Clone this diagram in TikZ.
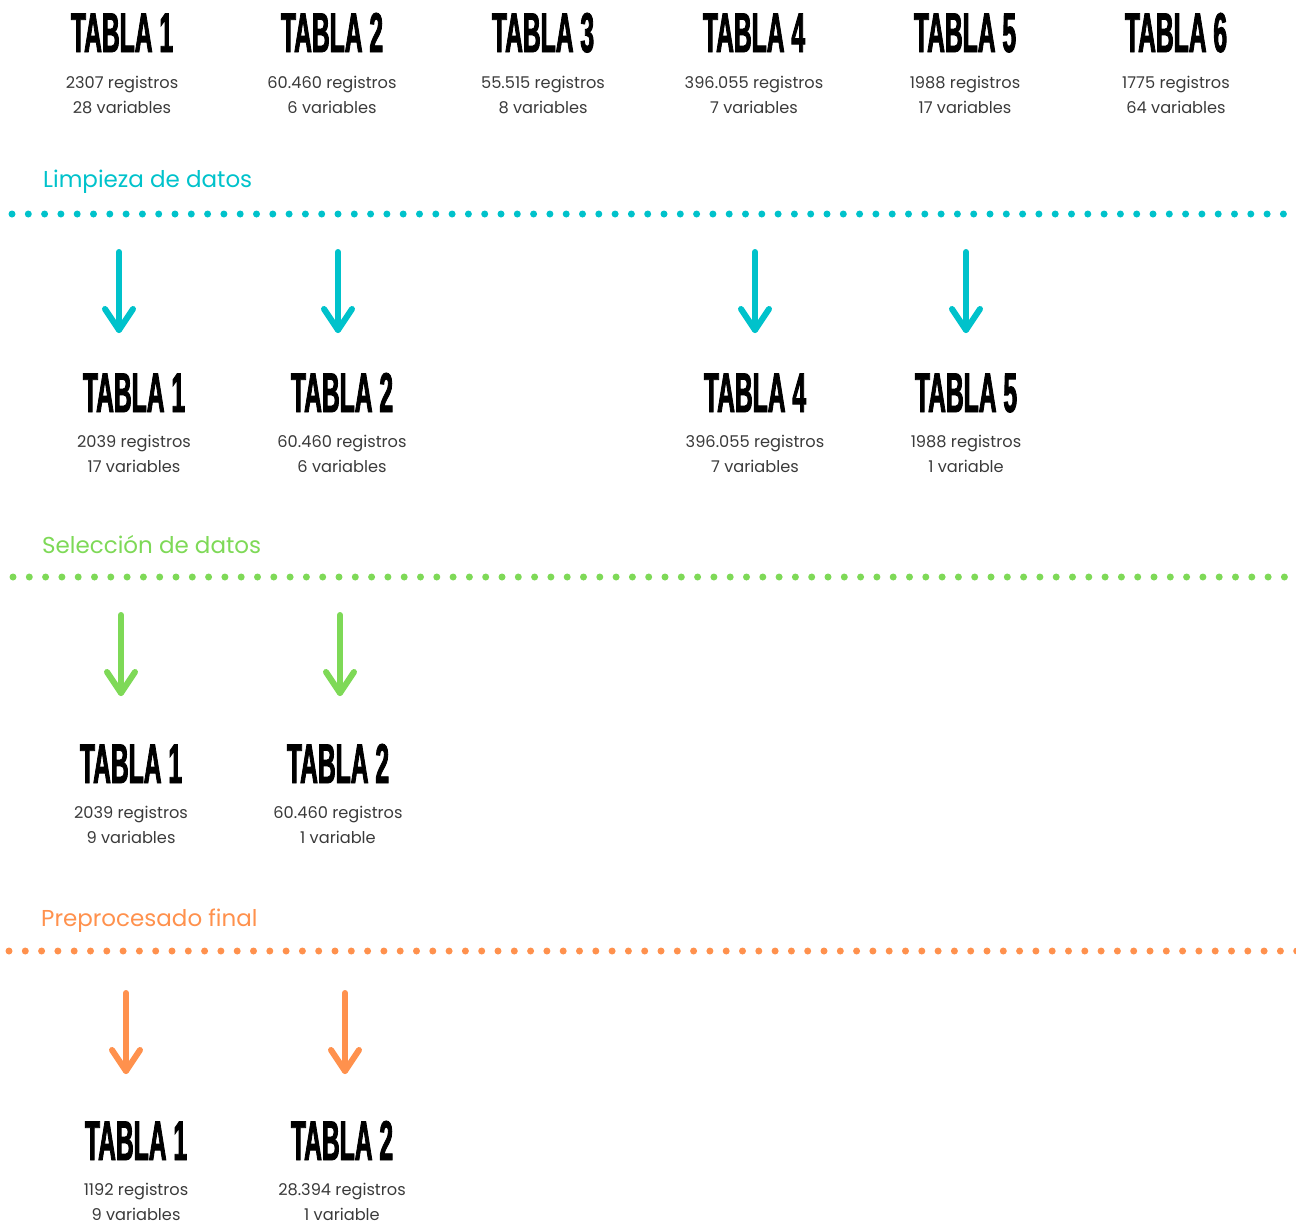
\documentclass[tikz,border=0pt]{standalone}
\usepackage{fontspec}
\usetikzlibrary{calc}
\setmainfont{Poppins}
\newfontfamily\titlefont[FakeStretch=0.44,FakeBold=1.5]{Liberation Sans}
\definecolor{cyanc}{HTML}{00C2CB}
\definecolor{greenc}{HTML}{7ED957}
\definecolor{orangec}{HTML}{FF914D}
\definecolor{txt}{HTML}{3A3A3A}
\begin{document}
\begin{tikzpicture}[x=1pt,y=-1pt,
  ttl/.style={font=\titlefont\bfseries\fontsize{56}{56}\selectfont, anchor=base, inner sep=0pt},
  info/.style={font=\fontsize{16.2}{24.5}\selectfont, text=txt, align=center, inner sep=0pt, anchor=base},
  sect/.style={font=\fontsize{23}{28}\selectfont, anchor=base west, inner sep=0pt},
  dots/.style={line width=7pt, line cap=round, dash pattern=on 0pt off 16.3pt},
  arr/.style={line width=6pt, line cap=round, line join=round}]
\useasboundingbox (0,0) rectangle (1296,1224);

% ---------- row 1
\foreach \n/\x/\r/\v in {1/122/2307 registros/28 variables,
                        2/332/60.460 registros/6 variables,
                        3/543/55.515 registros/8 variables,
                        4/754/396.055 registros/7 variables,
                        5/965/1988 registros/17 variables,
                        6/1176/1775 registros/64 variables}{
  \node[ttl] (a\n) at (\x,52) {TABLA \n};
  \node[info] (ai\n) at (\x,113) {\r\\\v};
}

% ---------- Limpieza
\node[sect, text=cyanc] (s1) at (43,187) {Limpieza de datos};
\coordinate (d1a) at (12,214);
\coordinate (d1b) at (1300,214);
\draw[dots, cyanc] (d1a) -- (d1b);

\foreach \n/\x in {1/119,2/338,4/755,5/966}{
  \coordinate (p\n) at (\x,252);
  \coordinate (q\n) at (\x,330);
  \draw[arr, cyanc] (p\n) -- (q\n);
  \draw[arr, cyanc] ($(q\n)+(-14,-21)$) -- (q\n) -- ($(q\n)+(14,-21)$);
}

\foreach \n/\x/\r/\v in {1/134/2039 registros/17 variables,
                        2/342/60.460 registros/6 variables,
                        4/755/396.055 registros/7 variables,
                        5/966/1988 registros/1 variable}{
  \node[ttl] (b\n) at (\x,412) {TABLA \n};
  \node[info] (bi\n) at (\x,472) {\r\\\v};
}

% ---------- Seleccion
\node[sect, text=greenc] (s2) at (42,553) {Selección de datos};
\coordinate (d2a) at (13,577);
\coordinate (d2b) at (1300,577);
\draw[dots, greenc] (d2a) -- (d2b);

\foreach \n/\x in {1/121,2/340}{
  \coordinate (g\n) at (\x,615);
  \coordinate (h\n) at (\x,693);
  \draw[arr, greenc] (g\n) -- (h\n);
  \draw[arr, greenc] ($(h\n)+(-14,-21)$) -- (h\n) -- ($(h\n)+(14,-21)$);
}

\foreach \n/\x/\r/\v in {1/131/2039 registros/9 variables,
                        2/338/60.460 registros/1 variable}{
  \node[ttl] (c\n) at (\x,783) {TABLA \n};
  \node[info] (ci\n) at (\x,843) {\r\\\v};
}

% ---------- Preprocesado
\node[sect, text=orangec] (s3) at (41,926) {Preprocesado final};
\coordinate (d3a) at (9,951);
\coordinate (d3b) at (1300,951);
\draw[dots, orangec] (d3a) -- (d3b);

\foreach \n/\x in {1/126,2/345}{
  \coordinate (m\n) at (\x,993);
  \coordinate (k\n) at (\x,1071);
  \draw[arr, orangec] (m\n) -- (k\n);
  \draw[arr, orangec] ($(k\n)+(-14,-21)$) -- (k\n) -- ($(k\n)+(14,-21)$);
}

\foreach \n/\x/\r/\v in {1/136/1192 registros/9 variables,
                        2/342/28.394 registros/1 variable}{
  \node[ttl] (e\n) at (\x,1160) {TABLA \n};
  \node[info] (ei\n) at (\x,1220) {\r\\\v};
}
\end{tikzpicture}
\end{document}
